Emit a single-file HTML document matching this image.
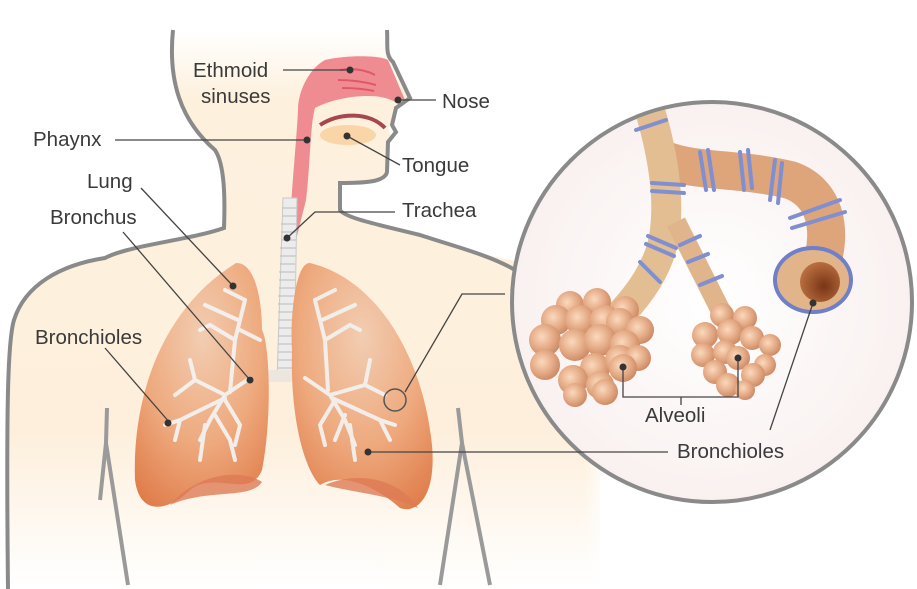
<!DOCTYPE html>
<html><head><meta charset="utf-8"><style>
html,body{margin:0;padding:0;background:#fff}
svg{display:block}
text{font-family:"Liberation Sans",sans-serif;font-size:20.5px;fill:#3a3a3a}
</style></head><body>
<svg width="917" height="589" viewBox="0 0 917 589" xmlns="http://www.w3.org/2000/svg">
<defs>
<linearGradient id="skin" x1="0" y1="0" x2="0" y2="1">
<stop offset="0" stop-color="#ffffff"/><stop offset="0.12" stop-color="#fdf1de"/><stop offset="0.72" stop-color="#fdefdc"/><stop offset="1" stop-color="#ffffff"/>
</linearGradient>
<linearGradient id="skinR" x1="0" y1="0" x2="1" y2="0">
<stop offset="0" stop-color="#fff" stop-opacity="0"/><stop offset="0.85" stop-color="#fff" stop-opacity="0"/><stop offset="1" stop-color="#fff" stop-opacity="1"/>
</linearGradient>
<radialGradient id="lung" cx="0.5" cy="0.3" r="0.8">
<stop offset="0" stop-color="#f2cdb2"/><stop offset="0.55" stop-color="#eeaa7e"/><stop offset="1" stop-color="#e07c4a"/>
</radialGradient>
<radialGradient id="alv" cx="0.4" cy="0.4" r="0.65">
<stop offset="0" stop-color="#fbd9bd"/><stop offset="0.6" stop-color="#e3a883"/><stop offset="1" stop-color="#c98762"/>
</radialGradient>
<radialGradient id="circ" cx="0.5" cy="0.5" r="0.5">
<stop offset="0" stop-color="#ffffff"/><stop offset="1" stop-color="#f9f1f0"/>
</radialGradient>
<radialGradient id="hole" cx="0.6" cy="0.6" r="0.6">
<stop offset="0" stop-color="#7a3516"/><stop offset="1" stop-color="#b76d3f"/>
</radialGradient>
</defs>
<path d="M173,30 C168,80 180,120 215,150 C225,165 225,200 224,228 C190,240 130,245 105,258 C60,265 25,285 10,330 L5,589 L600,589 L600,280 C540,265 450,250 420,235 C380,225 345,215 340,210 L340,183 C365,183 385,182 386,172 L387,148 L392,138 L388,128 L396,112 L410,98 L393,62 C385,55 388,45 387,30 Z" fill="url(#skin)"/>
<rect x="440" y="260" width="170" height="329" fill="url(#skinR)"/>
<path d="M173,30 C168,80 180,120 215,150 C225,165 225,200 224,228 C190,240 130,245 105,258 C60,265 25,285 14,320 C8,340 6,400 8,589" fill="none" stroke="#8a8a8a" stroke-width="4"/>
<path d="M387,30 C388,45 385,55 393,62 L410,98 L396,108 L392,125 L396,132 L388,142 L387,172 C385,182 365,183 340,183 L340,210 C345,218 380,225 420,235 C450,245 490,255 515,270" fill="none" stroke="#8a8a8a" stroke-width="4"/>
<polyline points="107,408 106,443 128,585" fill="none" stroke="#9a9a9a" stroke-width="4"/>
<polyline points="106,443 100,500" fill="none" stroke="#9a9a9a" stroke-width="4"/>
<polyline points="458,408 462,443 440,585" fill="none" stroke="#9a9a9a" stroke-width="4"/>
<polyline points="462,443 490,585" fill="none" stroke="#9a9a9a" stroke-width="4"/>
<path d="M325,60 C345,55 380,55 388,60 L405,100 L395,102 C380,92 340,95 315,108 C310,125 310,170 306,200 L296,240 L290,240 C290,200 296,150 298,110 C298,90 310,68 325,60 Z" fill="#ef8c92"/>
<path d="M320,125 C340,112 370,112 385,128" fill="none" stroke="#a84650" stroke-width="4"/>
<ellipse cx="348" cy="135" rx="28" ry="10" fill="#fad5a8"/>
<path d="M340,70 q20,-3 35,5 M338,80 q20,0 38,5 M342,88 q18,0 32,3" fill="none" stroke="#e0566a" stroke-width="2"/>
<path d="M283,198 L297,198 L294,380 L277,380 Z" fill="#ececec" stroke="#c8c8c8"/>
<g stroke="#c4c4c4" stroke-width="1.2">
<path d="M282,208 H297 M282,216 H297 M281,224 H296 M281,232 H296 M281,240 H296 M280,248 H296 M280,256 H296 M280,264 H295 M279,272 H295 M279,280 H295 M279,288 H295 M278,296 H295 M278,304 H295 M278,312 H294 M278,320 H294 M278,328 H294 M278,336 H294 M278,344 H294 M278,352 H294 M278,360 H294 M278,368 H294"/>
</g>
<rect x="248" y="370" width="80" height="12" fill="#ede6df"/>
<path d="M236,263 C255,262 262,300 262,330 C270,345 272,420 262,470 C250,500 215,470 190,490 C170,510 140,518 135,480 C132,400 160,310 236,263 Z" fill="url(#lung)"/>
<path d="M310,263 C295,262 290,320 292,350 C290,420 305,470 320,485 C345,470 380,490 400,508 C420,515 440,490 430,430 C420,360 380,280 310,263 Z" fill="url(#lung)"/>
<path d="M170,505 C200,470 245,470 262,482 C250,500 210,488 170,505 Z" fill="#dd7a55" opacity="0.8"/>
<path d="M325,485 C360,470 400,480 418,508 C390,495 350,492 325,485 Z" fill="#dd7a55" opacity="0.8"/>
<g stroke="#f3f1ef" stroke-width="4" fill="none" stroke-linecap="round" opacity="0.95">
<path d="M250,378 L225,395 L210,420 L200,440 M225,395 L195,380 L175,395 M230,392 L235,340 L245,300 M235,340 L210,325 M238,320 L205,305 M225,398 L180,420 L165,425 M215,415 L230,440 M205,425 L200,460 M225,400 L240,425 L235,445 M245,300 L225,290 M240,330 L260,340 M195,380 L190,360 M180,420 L175,440 M210,325 L200,330 M230,440 L235,460"/>
<path d="M305,378 L330,395 L345,420 L355,445 M330,395 L365,385 L385,395 M328,390 L325,340 L315,300 M325,340 L350,325 M322,320 L355,305 M332,398 L380,420 L395,425 M345,415 L335,440 M350,425 L355,460 M335,400 L320,425 L325,445 M315,300 L335,290 M365,385 L370,360 M380,420 L390,440 M350,325 L360,330"/>
</g>
<circle cx="395" cy="400" r="11" fill="none" stroke="#555" stroke-width="1.5"/>
<circle cx="712" cy="302" r="200" fill="url(#circ)" stroke="#8a8a8a" stroke-width="4"/>
<clipPath id="cc"><circle cx="712" cy="302" r="198"/></clipPath>
<g clip-path="url(#cc)" fill="none">
<path d="M665,160 C695,172 740,168 790,180 C825,192 835,230 818,275" stroke="#dea47a" stroke-width="38"/>
<path d="M645,95 C660,140 670,190 665,230 C662,260 645,290 615,320" stroke="#e3be92" stroke-width="30"/>
<path d="M676,222 C690,250 705,280 728,325" stroke="#e0b58b" stroke-width="20"/>
</g>
<g fill="none" stroke="#7f8fd0" stroke-width="4" stroke-linecap="round">
<path d="M636,130 L666,120"/>
<path d="M652,183 L684,185 M652,191 L684,193"/>
<path d="M648,236 L676,248 M646,244 L674,256"/>
<path d="M640,262 L660,282"/>
<path d="M680,245 L700,236 M688,262 L708,254 M700,285 L722,276"/>
<path d="M700,152 L706,190 M708,150 L714,190"/>
<path d="M740,152 L744,190 M748,150 L752,188"/>
<path d="M775,160 L770,200 M782,163 L778,203"/>
<path d="M790,218 L840,200 M792,228 L845,212"/>
</g>
<ellipse cx="813" cy="280" rx="38" ry="32" fill="#e1b489" stroke="#6f7fc8" stroke-width="4"/>
<circle cx="820" cy="282" r="20" fill="url(#hole)"/>
<g fill="url(#alv)">
<circle cx="570" cy="305" r="14"/><circle cx="597" cy="302" r="14"/><circle cx="625" cy="310" r="14"/>
<circle cx="556" cy="320" r="15"/><circle cx="580" cy="320" r="15"/><circle cx="605" cy="320" r="15"/><circle cx="620" cy="322" r="14"/><circle cx="640" cy="330" r="14"/>
<circle cx="545" cy="340" r="16"/><circle cx="575" cy="345" r="16"/><circle cx="600" cy="340" r="16"/><circle cx="625" cy="345" r="15"/>
<circle cx="545" cy="365" r="15"/><circle cx="595" cy="368" r="15"/><circle cx="620" cy="360" r="15"/><circle cx="638" cy="358" r="13"/>
<circle cx="573" cy="380" r="15"/><circle cx="600" cy="385" r="14"/><circle cx="623" cy="368" r="14"/><circle cx="575" cy="395" r="12"/><circle cx="605" cy="392" r="13"/>
<circle cx="722" cy="315" r="12"/><circle cx="745" cy="318" r="12"/>
<circle cx="705" cy="335" r="13"/><circle cx="730" cy="332" r="13"/><circle cx="752" cy="338" r="12"/><circle cx="770" cy="345" r="11"/>
<circle cx="703" cy="355" r="12"/><circle cx="725" cy="352" r="12"/><circle cx="765" cy="365" r="11"/>
<circle cx="715" cy="372" r="12"/><circle cx="738" cy="358" r="12"/><circle cx="753" cy="375" r="12"/><circle cx="728" cy="385" r="12"/><circle cx="745" cy="390" r="10"/>
</g>
<g stroke="#444" stroke-width="1.3" fill="none">
<path d="M283,70 L350,70 M400,100 L436,100 M115,140 L307,140 M347,136 L400,165 M395,212 L315,212 L287,238 M141,188 L233,286 M123,232 L250,380 M105,348 L170,423 M405,392 L462,294 L505,294 M368,452 L668,452 M623,367 L623,397 L738,397 L738,358 M681,397 L681,405 M813,303 L770,430"/>
</g>
<g fill="#333">
<circle cx="350" cy="70" r="3.5"/><circle cx="398" cy="100" r="3.5"/><circle cx="307" cy="140" r="3.5"/><circle cx="347" cy="136" r="3.5"/><circle cx="287" cy="238" r="3.5"/><circle cx="233" cy="286" r="3.5"/><circle cx="250" cy="380" r="3.5"/><circle cx="168" cy="423" r="3.5"/><circle cx="368" cy="452" r="3.5"/><circle cx="623" cy="367" r="3.5"/><circle cx="738" cy="358" r="3.5"/><circle cx="813" cy="303" r="3.5"/>
</g>
<text x="193" y="77">Ethmoid</text>
<text x="201" y="103">sinuses</text>
<text x="442" y="108">Nose</text>
<text x="33" y="146">Phaynx</text>
<text x="402" y="172">Tongue</text>
<text x="87" y="188">Lung</text>
<text x="402" y="217">Trachea</text>
<text x="50" y="224">Bronchus</text>
<text x="35" y="344">Bronchioles</text>
<text x="645" y="422">Alveoli</text>
<text x="677" y="458">Bronchioles</text>
</svg>
</body></html>
